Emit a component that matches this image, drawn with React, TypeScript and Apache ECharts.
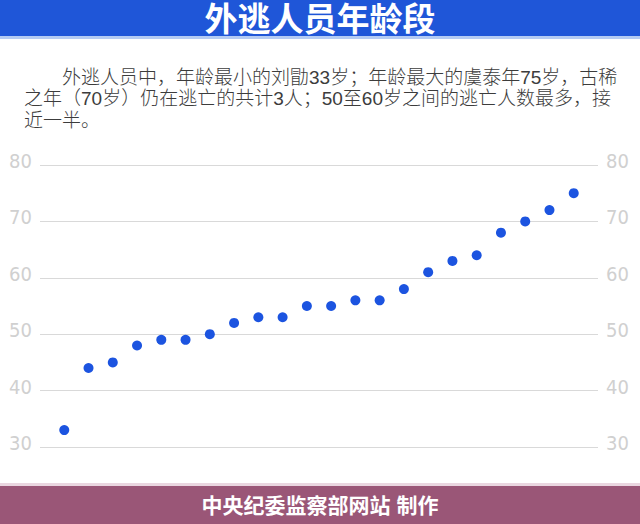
import React, { useEffect, useRef } from "react";
import * as echarts from "echarts";

const titleText = "外逃人员年龄段";
const paragraphLines = [
  "外逃人员中，年龄最小的刘勖33岁；年龄最大的虞泰年75岁，古稀",
  "之年（70岁）仍在逃亡的共计3人；50至60岁之间的逃亡人数最多，接",
  "近一半。",
];
const footerText = "中央纪委监察部网站 制作";

// ages of fugitives, sorted ascending
const ages = [33, 44, 45, 48, 49, 49, 50, 52, 53, 53, 55, 55, 56, 56, 58, 61, 63, 64, 68, 70, 72, 75];
const yTicks = [30, 40, 50, 60, 70, 80];

const AXIS_FONT = "'Liberation Sans Narrow', 'DejaVu Sans Condensed', 'Roboto', sans-serif";
const CJK_FONT = "'Liberation Sans', 'Noto Sans CJK SC', sans-serif";

export default function App() {
  const ref = useRef<HTMLDivElement>(null);

  useEffect(() => {
    if (!ref.current) return;
    const chart = echarts.init(ref.current, null, { renderer: "svg" });
    const points = ages.map((v, i) => [i + 1, v]);
    const yMin = yTicks[0];
    const yMax = yTicks[yTicks.length - 1];
    const yAxisCommon = {
      type: "value" as const,
      min: yMin,
      max: yMax,
      interval: 10,
      axisLine: { show: false },
      axisTick: { show: false },
      splitLine: { show: true, lineStyle: { color: "#d9d9d9", width: 1.2 } },
      axisLabel: {
        margin: 8,
        formatter: "{a|{value}}",
        rich: {
          a: {
            color: "#d0d0d0",
            fontSize: 20,
            fontFamily: AXIS_FONT,
            lineHeight: 20,
            padding: [0, 0, 8, 0],
          },
        },
      },
    };
    chart.setOption({
      animation: false,
      backgroundColor: "#ffffff",
      grid: { left: 40, right: 42, top: 165, bottom: 77, containLabel: false },
      xAxis: {
        type: "value",
        min: 0,
        max: ages.length + 1,
        show: false,
      },
      yAxis: [
        { ...yAxisCommon, position: "left" },
        { ...yAxisCommon, position: "right", splitLine: { show: false } },
      ],
      series: [
        {
          type: "scatter",
          data: points,
          symbol: "circle",
          symbolSize: 10,
          itemStyle: { color: "#1c54e0", opacity: 1 },
        },
      ],
      graphic: [
        { type: "rect", shape: { x: 0, y: 0, width: 640, height: 36 }, style: { fill: "#1f56d8" } },
        { type: "rect", shape: { x: 0, y: 36, width: 640, height: 3 }, style: { fill: "#b4cbf3" } },
        {
          type: "text",
          style: {
            text: titleText,
            x: 320,
            y: 19.5,
            align: "center",
            verticalAlign: "middle",
            fill: "#ffffff",
            fontSize: 33,
            lineHeight: 34,
            fontWeight: "bold",
            fontFamily: CJK_FONT,
          },
        },
        ...paragraphLines.map((line, i) => ({
          type: "text",
          style: {
            text: line,
            x: i === 0 ? 62 : 24,
            y: [77, 98.5, 120][i],
            align: "left",
            verticalAlign: "middle",
            fill: "#3c3c3c",
            fontSize: 19,
            lineHeight: 20,
            fontWeight: 300,
            fontFamily: CJK_FONT,
          },
        })),
        { type: "rect", shape: { x: 0, y: 483, width: 640, height: 3 }, style: { fill: "#ead6e0" } },
        { type: "rect", shape: { x: 0, y: 486, width: 640, height: 38 }, style: { fill: "#9a5677" } },
        {
          type: "text",
          style: {
            text: footerText,
            x: 320,
            y: 505,
            align: "center",
            verticalAlign: "middle",
            fill: "#ffffff",
            fontSize: 21,
            lineHeight: 22,
            fontWeight: "bold",
            fontFamily: CJK_FONT,
          },
        },
      ],
    });
    return () => chart.dispose();
  }, []);

  return (
    <div
      ref={ref}
      style={{ position: "absolute", left: 0, top: 0, width: 640, height: 524 }}
    />
  );
}
